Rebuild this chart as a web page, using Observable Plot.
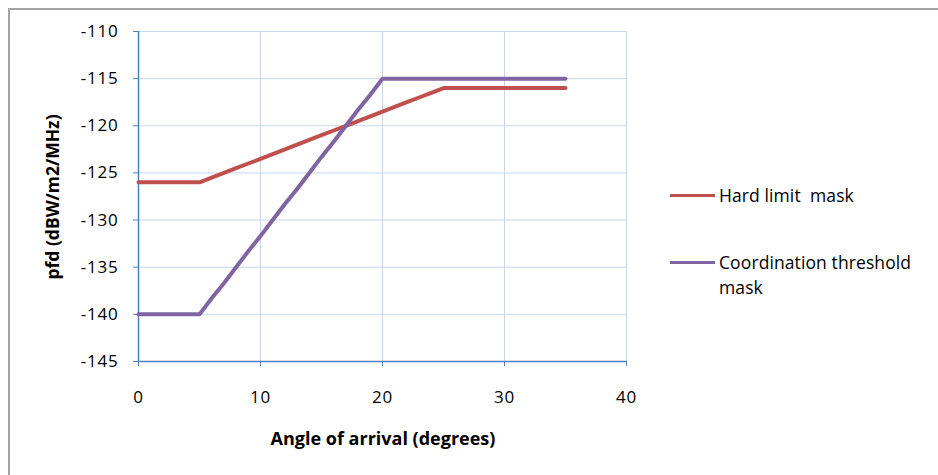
<!DOCTYPE html>
<html>
<head>
<meta charset="utf-8">
<script src="https://cdn.jsdelivr.net/npm/d3@7"></script>
<script src="https://cdn.jsdelivr.net/npm/@observablehq/plot@0.6"></script>
<style>
  html, body { margin: 0; padding: 0; background: #fff; }
  #wrap { position: relative; width: 938px; height: 475px; overflow: hidden; font-family: "Open Sans", sans-serif; }
  #frame { position: absolute; left: 8px; top: 8px; width: 940px; height: 480px; border-top: 2px solid #a3a3a3; border-left: 2px solid #a3a3a3; box-sizing: border-box; }
  #chart { position: absolute; left: 0; top: 0; }
  .ttl { position: absolute; font-weight: bold; color: #000; white-space: nowrap; }
  #xt { left: 383px; top: 438px; font-size: 18px; transform: translate(-50%, -50%); }
  #yt { left: 52px; top: 197px; font-size: 17.5px; transform: translate(-50%, -50%) rotate(-90deg); }
  .leg { position: absolute; font-size: 17.5px; letter-spacing: 0.1px; color: #000; line-height: 25px; }
  .sw { position: absolute; width: 45px; height: 3px; }
  g[aria-label="y-axis tick"], g[aria-label="x-axis tick"] { stroke: #4F81BD; }
  g[aria-label="y-axis tick label"], g[aria-label="x-axis tick label"] { letter-spacing: 0.8px; font-size: 17px; }
</style>
</head>
<body>
<div id="wrap">
  <div id="frame"></div>
  <div id="chart"></div>
  <div class="ttl" id="xt">Angle of arrival (degrees)</div>
  <div class="ttl" id="yt">pfd (dBW/m2/MHz)</div>
  <div class="sw" style="left:670px;top:194px;background:#C0504D"></div>
  <div class="leg" style="left:719px;top:183px;">Hard limit&nbsp; mask</div>
  <div class="sw" style="left:670px;top:261px;background:#8064A2"></div>
  <div class="leg" style="left:719px;top:250px;">Coordination threshold<br>mask</div>
</div>
<script>
const angles = [0,1,2,3,4,5,6,7,8,9,10,11,12,13,14,15,16,17,18,19,20,21,22,23,24,25,26,27,28,29,30,31,32,33,34,35];
const hardLimit = [-126,-126,-126,-126,-126,-126,-125.5,-125,-124.5,-124,-123.5,-123,-122.5,-122,-121.5,-121,-120.5,-120,-119.5,-119,-118.5,-118,-117.5,-117,-116.5,-116,-116,-116,-116,-116,-116,-116,-116,-116,-116,-116];
const coordThreshold = [-140,-140,-140,-140,-140,-140,-138.3,-136.7,-135,-133.3,-131.7,-130,-128.3,-126.7,-125,-123.3,-121.7,-120,-118.3,-116.7,-115,-115,-115,-115,-115,-115,-115,-115,-115,-115,-115,-115,-115,-115,-115,-115];
const xTicks = [0,10,20,30,40];
const yTicks = [-145,-140,-135,-130,-125,-120,-115,-110];

const hard = angles.map((a,i) => ({angle: a, pfd: hardLimit[i]}));
const coord = angles.map((a,i) => ({angle: a, pfd: coordThreshold[i]}));

const chart = Plot.plot({
  width: 938,
  height: 475,
  marginLeft: 138,
  marginRight: 312,
  marginTop: 31,
  marginBottom: 114,
  style: {fontFamily: "Open Sans, sans-serif", fontSize: "17px", color: "#000", background: "transparent"},
  x: {domain: [0, 40], ticks: xTicks},
  y: {domain: [-145, -110], ticks: yTicks},
  marks: [
    Plot.gridX(xTicks.filter(d => d > 0), {stroke: "#C7D6EB", strokeOpacity: 1, strokeWidth: 1}),
    Plot.gridY(yTicks.filter(d => d > -145), {stroke: "#C7D6EB", strokeOpacity: 1, strokeWidth: 1}),
    Plot.axisX(xTicks, {tickSize: 5, tickPadding: 24, label: null, fill: "#000", tickFormat: d => String(d)}),
    Plot.axisY(yTicks, {tickSize: 5, tickPadding: 15, label: null, fill: "#000", tickFormat: d => String(d)}),
    Plot.ruleX([0], {stroke: "#4F81BD", strokeWidth: 1.5}),
    Plot.ruleY([-145], {stroke: "#4F81BD", strokeWidth: 1.5}),
    Plot.line(hard, {x: "angle", y: "pfd", stroke: "#C0504D", strokeWidth: 4, strokeLinecap: "round", strokeLinejoin: "round"}),
    Plot.line(coord, {x: "angle", y: "pfd", stroke: "#8064A2", strokeWidth: 4, strokeLinecap: "round", strokeLinejoin: "round"})
  ]
});
document.getElementById("chart").appendChild(chart);
</script>
</body>
</html>
